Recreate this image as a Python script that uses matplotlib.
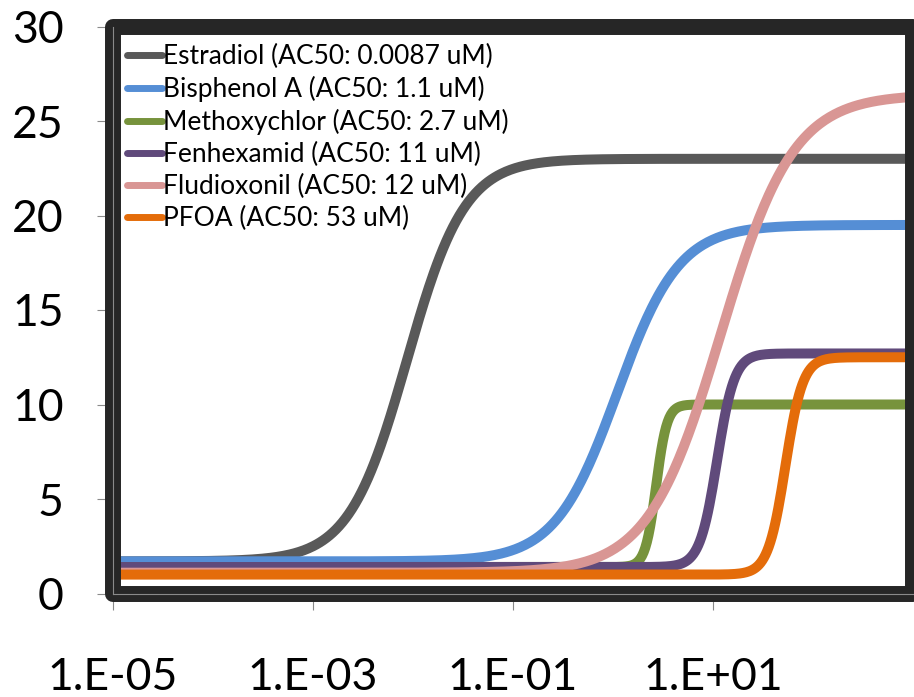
import matplotlib
matplotlib.use("Agg")
import matplotlib.pyplot as plt
import numpy as np
from matplotlib.lines import Line2D
from matplotlib.patches import Rectangle

plt.rcParams['font.family'] = ['Lato', 'DejaVu Sans']

# dose-response fits (Hill model) for each compound
compounds = ['Estradiol', 'Bisphenol A', 'Methoxychlor', 'Fenhexamid', 'Fludioxonil', 'PFOA']
ac50_um = [0.0087, 1.1, 2.7, 11, 12, 53]
bottoms = [1.7, 1.7, 1.4, 1.4, 1.1, 1.0]
tops = [23.0, 19.5, 10.0, 12.7, 26.4, 12.5]
hill_slopes = [1.5, 1.4, 8.0, 5.0, 1.2, 5.0]
colors = ['#595959', '#558ED5', '#77933C', '#604A7B', '#D99694', '#E46C0A']

x_ticks = [1e-5, 1e-3, 1e-1, 1e1]
x_tick_labels = ['1.E-05', '1.E-03', '1.E-01', '1.E+01']
y_ticks = [0, 5, 10, 15, 20, 25, 30]

FRAME = '#262626'
AXIS_GRAY = '#8a8a8a'

fig = plt.figure(figsize=(9.14, 6.97), dpi=100)
ax = fig.add_axes([113 / 914, 103.5 / 697, 800 / 914, 567 / 697])

conc = np.logspace(-5, 3, 500)
handles = []
for name, ac50, b, t, n, c in zip(compounds, ac50_um, bottoms, tops, hill_slopes, colors):
    resp = b + (t - b) / (1 + (ac50 / conc) ** n)
    ax.plot(conc, resp, color=c, lw=7.2, solid_capstyle='butt', zorder=2)
    handles.append(Line2D([0], [0], color=c, lw=5, solid_capstyle='round',
                          label=f'{name} (AC50: {ac50:g} uM)'))

ax.set_xscale('log')
ax.set_xlim(1e-5, 1e3)
ax.set_ylim(0, 30)
ax.set_xticks(x_ticks)
ax.set_xticklabels(x_tick_labels)
ax.xaxis.set_minor_locator(matplotlib.ticker.NullLocator())
ax.set_yticks(y_ticks)

ax.tick_params(axis='both', direction='out', length=11.5, width=0.8,
               color=AXIS_GRAY, labelsize=32, labelcolor='black')
ax.tick_params(axis='y', pad=24)
ax.tick_params(axis='x', pad=34)

for side in ['top', 'right']:
    ax.spines[side].set_visible(False)
for side in ['left', 'bottom']:
    ax.spines[side].set_color(AXIS_GRAY)
    ax.spines[side].set_linewidth(0.8)
    ax.spines[side].set_zorder(4)

# thick rounded border around the plot area
ax.add_patch(Rectangle((0, 0), 1, 1, transform=ax.transAxes, fill=False,
                       ec=FRAME, lw=11.5, joinstyle='round', clip_on=False, zorder=3))

for tick in ax.xaxis.get_major_ticks() + ax.yaxis.get_major_ticks():
    tick.tick1line.set_zorder(4)

ax.legend(handles=handles, loc='upper left', bbox_to_anchor=(0.018, 0.969),
          frameon=False, fontsize=19, handlelength=1.3, handletextpad=0.05,
          labelspacing=0.26, borderpad=0, borderaxespad=0)

fig.savefig('out.png', dpi=100)
